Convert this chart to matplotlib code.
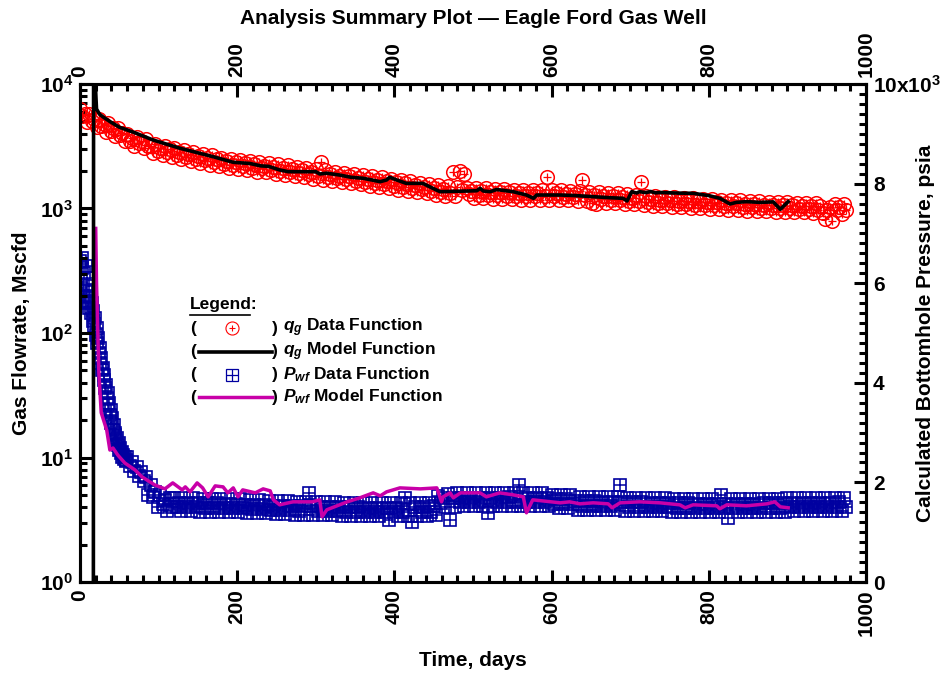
import matplotlib
matplotlib.use("Agg")
import matplotlib.pyplot as plt
from matplotlib.lines import Line2D
from matplotlib.ticker import MultipleLocator, FixedLocator, LogLocator, NullFormatter

plt.rcParams['font.family'] = ['Liberation Sans', 'DejaVu Sans']
plt.rcParams['font.weight'] = 'bold'
plt.rcParams['mathtext.fontset'] = 'custom'
plt.rcParams['mathtext.it'] = 'Liberation Sans:italic:bold'
plt.rcParams['mathtext.rm'] = 'Liberation Sans:bold'
plt.rcParams['mathtext.bf'] = 'Liberation Sans:bold'

# ---------------- data ----------------
t_q = list(range(0, 976, 3))
q_data = [
    6320, 5510, 5730, 4940, 5790, 5030, 5220, 4500, 5250, 4560,
    4740, 4110, 4830, 4220, 4400, 3800, 4470, 3900, 4050, 3500,
    3980, 3500, 3670, 3200, 3780, 3330, 3490, 3040, 3590, 3150,
    3170, 2780, 3310, 2920, 3080, 2700, 3200, 2830, 2980, 2610,
    3050, 2700, 2840, 2490, 2950, 2610, 2750, 2410, 2860, 2520,
    2630, 2300, 2740, 2430, 2560, 2240, 2670, 2360, 2490, 2180,
    2560, 2270, 2400, 2110, 2520, 2230, 2350, 2070, 2460, 2180,
    2300, 2020, 2410, 2130, 2260, 1980, 2370, 2100, 2210, 1950,
    2310, 2050, 2160, 1900, 2270, 2010, 2130, 1870, 2230, 1980,
    2080, 1830, 2170, 1930, 2030, 1780, 2130, 1880, 1980, 1740,
    2070, 1830, 2350, 1700, 2020, 1790, 1890, 1660, 1970, 1750,
    1840, 1620, 1930, 1710, 1810, 1590, 1890, 1670, 1770, 1560,
    1850, 1640, 1730, 1520, 1810, 1610, 1690, 1490, 1780, 1570,
    1660, 1460, 1730, 1530, 1620, 1420, 1690, 1500, 1590, 1390,
    1660, 1460, 1550, 1360, 1610, 1430, 1500, 1320, 1570, 1390,
    1460, 1290, 1540, 1360, 1440, 1270, 1520, 1340, 1950, 1260,
    1490, 2000, 1400, 1900, 1470, 1310, 1390, 1220, 1460, 1290,
    1370, 1210, 1450, 1280, 1360, 1200, 1440, 1280, 1360, 1200,
    1430, 1270, 1350, 1190, 1420, 1260, 1340, 1180, 1420, 1260,
    1340, 1180, 1420, 1260, 1330, 1170, 1410, 1250, 1800, 1170,
    1410, 1250, 1320, 1170, 1400, 1240, 1310, 1160, 1380, 1230,
    1300, 1150, 1370, 1700, 1290, 1140, 1360, 1100, 1280, 1080,
    1350, 1190, 1270, 1110, 1330, 1170, 1250, 1100, 1320, 1170,
    1240, 1090, 1300, 1150, 1220, 1080, 1290, 1140, 1630, 1060,
    1270, 1130, 1200, 1050, 1250, 1110, 1180, 1040, 1240, 1110,
    1170, 1030, 1230, 1090, 1150, 1020, 1220, 1080, 1150, 1010,
    1210, 1070, 1140, 1000, 1190, 1060, 1120, 990, 1190, 1060,
    1120, 990, 1180, 1050, 1110, 980, 1170, 1040, 1100, 970,
    1160, 1030, 1090, 960, 1150, 1020, 1080, 950, 1140, 1010,
    1070, 950, 1130, 1000, 1060, 940, 1120, 1000, 1060, 940,
    1120, 1000, 1060, 930, 1110, 990, 1050, 930, 1110, 990,
    1050, 920, 1100, 980, 1040, 920, 830, 980, 1030, 800,
    1090, 970, 1030, 910, 1090, 970,
]

t_qm = [17, 17.3, 19.5, 21, 25, 30, 38, 50, 68, 93,
        127, 170, 195, 216, 230, 240, 254, 265, 300, 305,
        314, 330, 345, 360, 382, 390, 394, 403, 415, 436,
        449, 458, 494, 505, 509, 513, 522, 530, 551, 568,
        577, 581, 594, 611, 630, 653, 675, 691, 696, 702,
        708, 712, 720, 726, 732, 738, 760, 780, 800, 814,
        827, 835, 848, 865, 882, 891, 901]
q_model = [0.5, 30000, 10000, 6300, 5700, 5400, 5000, 4500, 4100, 3550,
           3050, 2600, 2350, 2300, 2200, 2180, 2040, 1975, 1975, 1893,
           1920, 1858, 1781, 1750, 1642, 1695, 1781, 1695, 1592, 1592,
           1452, 1365, 1382, 1390, 1452, 1382, 1365, 1420, 1365, 1283,
           1207, 1283, 1283, 1283, 1270, 1244, 1220, 1207, 1150, 1365,
           1330, 1365, 1340, 1370, 1335, 1345, 1330, 1324, 1270, 1207,
           1087, 1120, 1135, 1120, 1130, 985, 1135]

# daily for the first 60 days, then every 3 days
t_p = list(range(0, 60)) + list(range(60, 976, 3))
p_data = [
    6450, 5900, 6300, 6500, 5750, 6200, 5650, 6350, 5850, 6100,
    5600, 5950, 5500, 5750, 5400, 5600, 5250, 5450, 5150, 5300,
    4950, 5100, 4800, 4900, 4600, 4700, 4400, 4500, 4250, 4300,
    4050, 4150, 3900, 3950, 3700, 3800, 3550, 3600, 3350, 3450,
    3200, 3300, 3050, 3150, 2950, 3000, 2850, 2900, 2750, 2800,
    2650, 2700, 2600, 2620, 2520, 2560, 2470, 2500, 2420, 2450,
    2500, 2330, 2400, 2230, 2300, 2130, 2200, 2030, 2100, 1750,
    1950, 1700, 1800, 1500, 1750, 1560, 1650, 1420, 1680, 1500,
    1680, 1505, 1595, 1420, 1680, 1505, 1595, 1420, 1680, 1505,
    1585, 1410, 1670, 1495, 1585, 1410, 1670, 1495, 1585, 1410,
    1660, 1485, 1575, 1400, 1660, 1485, 1575, 1400, 1660, 1485,
    1555, 1380, 1640, 1465, 1555, 1380, 1640, 1465, 1555, 1380,
    1620, 1445, 1535, 1360, 1620, 1445, 1535, 1360, 1620, 1445,
    1525, 1350, 1610, 1435, 1525, 1350, 1610, 1790, 1525, 1350,
    1600, 1425, 1515, 1340, 1600, 1425, 1515, 1340, 1600, 1425,
    1505, 1330, 1590, 1415, 1505, 1330, 1590, 1415, 1505, 1330,
    1580, 1405, 1495, 1320, 1580, 1405, 1495, 1320, 1580, 1405,
    1495, 1250, 1580, 1405, 1495, 1320, 1580, 1405, 1690, 1320,
    1590, 1200, 1505, 1330, 1590, 1415, 1505, 1330, 1590, 1415,
    1525, 1350, 1720, 1595, 1685, 1510, 1770, 1250, 1685, 1510,
    1780, 1605, 1695, 1520, 1780, 1605, 1695, 1520, 1780, 1605,
    1695, 1520, 1780, 1385, 1695, 1520, 1780, 1605, 1695, 1520,
    1790, 1615, 1705, 1530, 1790, 1615, 1950, 1530, 1790, 1615,
    1695, 1520, 1780, 1605, 1695, 1520, 1780, 1605, 1695, 1520,
    1750, 1575, 1665, 1490, 1750, 1575, 1665, 1490, 1750, 1575,
    1625, 1450, 1710, 1535, 1625, 1450, 1710, 1535, 1625, 1450,
    1700, 1525, 1615, 1445, 1700, 1525, 1615, 1440, 1700, 1950,
    1605, 1430, 1690, 1515, 1605, 1430, 1690, 1515, 1605, 1430,
    1680, 1505, 1595, 1420, 1680, 1505, 1595, 1420, 1680, 1505,
    1585, 1410, 1670, 1495, 1585, 1410, 1670, 1495, 1585, 1410,
    1660, 1485, 1575, 1400, 1660, 1485, 1575, 1400, 1660, 1485,
    1575, 1400, 1750, 1485, 1575, 1285, 1660, 1485, 1575, 1400,
    1660, 1485, 1575, 1400, 1660, 1485, 1575, 1400, 1660, 1485,
    1585, 1410, 1670, 1495, 1585, 1410, 1670, 1495, 1585, 1410,
    1680, 1505, 1595, 1420, 1680, 1505, 1595, 1420, 1680, 1505,
    1595, 1420, 1680, 1505, 1595, 1420, 1680, 1505, 1595, 1420,
    1690, 1515, 1605, 1430, 1690, 1515,
]

t_pm = [20, 21, 24, 27, 30, 34, 38, 42, 48, 57,
        70, 79, 95, 108, 118, 130, 134, 140, 149, 156,
        163, 172, 182, 188, 195, 201, 207, 223, 233, 242,
        246, 254, 271, 296, 305, 308, 314, 340, 356, 373,
        382, 390, 407, 433, 454, 460, 462, 471, 475, 484,
        492, 509, 517, 534, 551, 564, 568, 576, 611, 623,
        636, 653, 672, 677, 687, 712, 738, 763, 770, 780,
        810, 814, 823, 848, 874, 884, 891, 901]
p_model = [7100, 6000, 4200, 3400, 3250, 3050, 2650, 2690, 2550, 2390,
           2250, 2110, 1950, 1870, 1990, 1850, 1910, 1810, 1990, 1890,
           1710, 1930, 1910, 1790, 1890, 1710, 1850, 1790, 1870, 1830,
           1650, 1550, 1610, 1610, 1650, 1310, 1450, 1610, 1690, 1790,
           1730, 1810, 1890, 1870, 1890, 1610, 1710, 1790, 1690, 1790,
           1790, 1790, 1710, 1790, 1750, 1710, 1390, 1650, 1590, 1610,
           1570, 1590, 1570, 1490, 1590, 1610, 1590, 1550, 1490, 1550,
           1530, 1470, 1550, 1530, 1570, 1610, 1510, 1490]

x_ticks = [0, 200, 400, 600, 800, 1000]
y_left_ticks = [1, 10, 100, 1000, 10000]
y_left_labels = [r'$\mathbf{10^{0}}$', r'$\mathbf{10^{1}}$', r'$\mathbf{10^{2}}$',
                 r'$\mathbf{10^{3}}$', r'$\mathbf{10^{4}}$']
y_right_ticks = [0, 2000, 4000, 6000, 8000, 10000]
y_right_labels = ['0', '2', '4', '6', '8', r'$\mathbf{10x10^{3}}$']

RED = '#FF0000'
BLUE = '#0000A0'
MAG = '#C800A8'

W, H = 946, 677
fig = plt.figure(figsize=(W / 100, H / 100), dpi=100)
L, R, T, B = 80, 866, 84, 582
ax1 = fig.add_axes([L / W, 1 - B / H, (R - L) / W, (B - T) / H])
ax2 = ax1.twinx()
ax1.set_zorder(ax2.get_zorder() + 1)
ax1.patch.set_visible(False)

# Pwf on right axis
ax2.plot(t_p, p_data, 's', mfc='none', mec=BLUE, ms=8.8, mew=1.2)
ax2.plot(t_p, p_data, '+', color=BLUE, ms=8.8, mew=1.1)
ax2.plot(t_pm, p_model, '-', color=MAG, lw=2.5)

# q on left axis
ax1.plot(t_q, q_data, 'o', mfc='none', mec=RED, ms=9.8, mew=1.1)
ax1.plot(t_q, q_data, '+', color=RED, ms=5.5, mew=0.9)
ax1.plot(t_qm, q_model, '-', color='black', lw=2.6)

ax1.set_xlim(0, 1000)
ax1.set_yscale('log')
ax1.set_ylim(1, 10000)
ax2.set_ylim(0, 10000)

ax1.xaxis.set_major_locator(FixedLocator(x_ticks))
ax1.xaxis.set_minor_locator(MultipleLocator(20))
ax1.set_xticklabels([str(v) for v in x_ticks])
ax1.set_yticks(y_left_ticks)
ax1.set_yticklabels(y_left_labels)
ax1.yaxis.set_minor_locator(LogLocator(base=10, subs=range(2, 10)))
ax1.yaxis.set_minor_formatter(NullFormatter())
ax2.set_yticks(y_right_ticks)
ax2.set_yticklabels(y_right_labels)
ax2.yaxis.set_minor_locator(MultipleLocator(200))

fs = 15
ax1.tick_params(axis='x', which='both', direction='in', top=True, bottom=True,
                labeltop=True, labelbottom=True, labelrotation=90, labelsize=fs)
ax1.tick_params(axis='y', which='both', direction='in', left=True, right=False,
                labelsize=fs)
ax2.tick_params(axis='y', which='both', direction='in', right=True, labelsize=fs)
for a in (ax1, ax2):
    a.tick_params(which='major', length=9, width=2.2, pad=5)
    a.tick_params(which='minor', length=5, width=2.2)
    for s in a.spines.values():
        s.set_linewidth(2.2)
for lab in ax1.get_xticklabels() + ax1.get_yticklabels() + ax2.get_yticklabels():
    lab.set_fontweight('bold')

fig.text(473 / W, 1 - 18 / H, 'Analysis Summary Plot \u2014 Eagle Ford Gas Well',
         ha='center', va='center', fontsize=fs, fontweight='bold')
fig.text(22 / W, 1 - 333 / H, 'Gas Flowrate, Mscfd', rotation=90,
         ha='center', va='center', fontsize=fs, fontweight='bold')
fig.text(925 / W, 1 - 333 / H, 'Calculated Bottomhole Pressure, psia', rotation=90,
         ha='center', va='center', fontsize=fs, fontweight='bold')
fig.text(473 / W, 1 - 660 / H, 'Time, days', ha='center', va='center',
         fontsize=fs, fontweight='bold')

# custom legend
lfs = 12.5
def fx(px):
    return px / W
def fy(py):
    return 1 - py / H
fig.text(fx(190), fy(305), 'Legend:', ha='left', va='center', fontsize=lfs, fontweight='bold')
fig.add_artist(Line2D([fx(190), fx(250)], [fy(315), fy(315)], color='black', lw=1.2))
rows = [
    (328, r'$q_g$ Data Function', 'qdata'),
    (352, r'$q_g$ Model Function', 'qmodel'),
    (375, r'$P_{wf}$ Data Function', 'pdata'),
    (397, r'$P_{wf}$ Model Function', 'pmodel'),
]
for py, txt, kind in rows:
    fig.text(fx(190), fy(py), '(', ha='left', va='center', fontsize=lfs, fontweight='bold')
    fig.text(fx(272), fy(py), ')', ha='left', va='center', fontsize=lfs, fontweight='bold')
    fig.text(fx(283), fy(py), txt, ha='left', va='center', fontsize=lfs, fontweight='bold')
    if kind == 'qdata':
        fig.add_artist(Line2D([fx(232)], [fy(py)], marker='o', mfc='none', mec=RED, ms=9.4, mew=0.8, ls='none'))
        fig.add_artist(Line2D([fx(232)], [fy(py)], marker='+', color=RED, ms=5, mew=0.8, ls='none'))
    elif kind == 'qmodel':
        fig.add_artist(Line2D([fx(199), fx(272)], [fy(py), fy(py)], color='black', lw=2.6))
    elif kind == 'pdata':
        fig.add_artist(Line2D([fx(232)], [fy(py)], marker='s', mfc='none', mec=BLUE, ms=8.6, mew=0.9, ls='none'))
        fig.add_artist(Line2D([fx(232)], [fy(py)], marker='+', color=BLUE, ms=8.6, mew=0.9, ls='none'))
    else:
        fig.add_artist(Line2D([fx(199), fx(272)], [fy(py), fy(py)], color=MAG, lw=2.5))

fig.savefig('out.png', dpi=100)
